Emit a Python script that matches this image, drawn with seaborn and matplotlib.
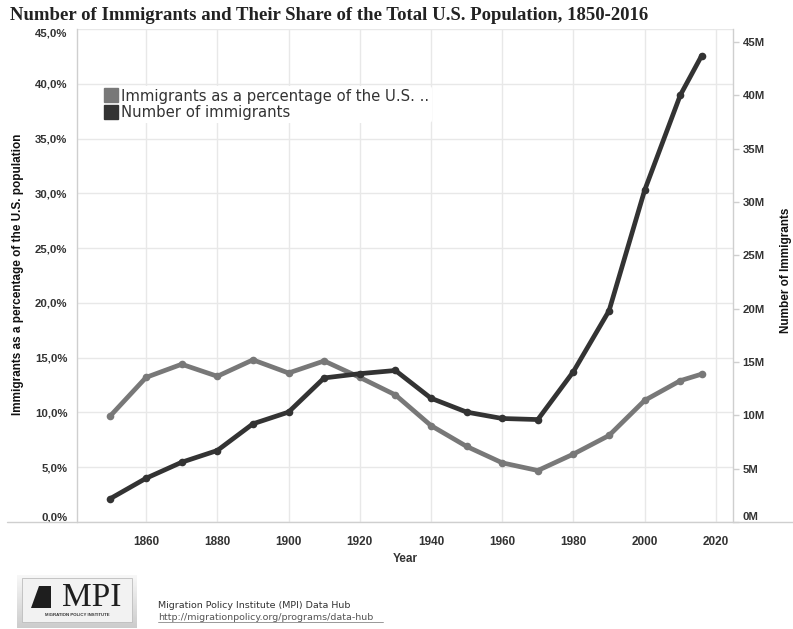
import matplotlib
matplotlib.use("Agg")
import matplotlib.pyplot as plt
import seaborn as sns
import pandas as pd
import numpy as np
from matplotlib.lines import Line2D
from matplotlib.patches import Rectangle, Polygon
from matplotlib.ticker import FuncFormatter, FixedLocator

# ---------------- data ----------------
years = [1850, 1860, 1870, 1880, 1890, 1900, 1910, 1920, 1930, 1940,
         1950, 1960, 1970, 1980, 1990, 2000, 2010, 2016]
pct_immigrants = [9.7, 13.2, 14.4, 13.3, 14.8, 13.6, 14.7, 13.2, 11.6, 8.8,
                  6.9, 5.4, 4.7, 6.2, 7.9, 11.1, 12.9, 13.5]
num_immigrants_m = [2.2, 4.1, 5.6, 6.7, 9.2, 10.3, 13.5, 13.9, 14.2, 11.6,
                    10.3, 9.7, 9.6, 14.1, 19.8, 31.1, 40.0, 43.7]
pct_ticks = [0, 5, 10, 15, 20, 25, 30, 35, 40, 45]
num_ticks = [0, 5, 10, 15, 20, 25, 30, 35, 40, 45]
year_ticks = [1860, 1880, 1900, 1920, 1940, 1960, 1980, 2000, 2020]
legend_labels = ["Immigrants as a percentage of the U.S. ..", "Number of immigrants"]
title = "Number of Immigrants and Their Share of the Total U.S. Population, 1850-2016"

GRAY = "#787878"
DARK = "#333333"
GRID = "#e8e8e8"
AXLINE = "#cfcfcf"
TXT = "#333333"

sns.set_style("white")
plt.rcParams['font.family'] = ['Liberation Sans', 'DejaVu Sans']

W, H = 793, 629
fig = plt.figure(figsize=(W / 100, H / 100), dpi=100)

L, R, T, B = 77, 733, 29, 522
ax = fig.add_axes([L / W, 1 - B / H, (R - L) / W, (B - T) / H])

df = pd.DataFrame({"Year": years, "pct": pct_immigrants, "num": num_immigrants_m})

sns.lineplot(data=df, x="Year", y="pct", ax=ax, color=GRAY, linewidth=3.4,
             marker='o', markersize=5.5, markeredgewidth=0, zorder=3)
ax.set_xlim(1840.6, 2024.8)
ax.set_ylim(0, 45)
ax.yaxis.set_major_locator(FixedLocator(pct_ticks))
ax.yaxis.set_major_formatter(FuncFormatter(lambda v, p: f"{v:.1f}%".replace('.', ',')))
ax.xaxis.set_major_locator(FixedLocator(year_ticks))
ax.grid(True, color=GRID, linewidth=1.0)
ax.set_axisbelow(True)
ax.tick_params(axis='y', length=0, pad=7, labelsize=8.2, labelcolor=TXT)
ax.tick_params(axis='x', length=4, color=AXLINE, width=1, pad=6, labelsize=8.5, labelcolor=TXT)
ax.set_xlabel("Year", fontsize=8.5, fontweight='bold', color=TXT, labelpad=4)
ax.set_ylabel("")
for s in ['top', 'bottom', 'right']:
    ax.spines[s].set_visible(False)
ax.spines['left'].set_color(AXLINE)
ax.spines['left'].set_linewidth(1.0)

ax2 = ax.twinx()
sns.lineplot(data=df, x="Year", y="num", ax=ax2, color=DARK, linewidth=3.4,
             marker='o', markersize=5.5, markeredgewidth=0, zorder=4)
ax2.set_ylim(0, 46.2)
ax2.yaxis.set_major_locator(FixedLocator(num_ticks))
ax2.yaxis.set_major_formatter(FuncFormatter(lambda v, p: f"{v:.0f}M"))
ax2.tick_params(axis='y', length=4, color=AXLINE, width=1, pad=3, labelsize=8.2, labelcolor=TXT)
ax2.set_ylabel("")
for s in ['top', 'bottom', 'left']:
    ax2.spines[s].set_visible(False)
ax2.spines['right'].set_color(AXLINE)
ax2.spines['right'].set_linewidth(1.0)

fig.canvas.draw()
for lab in ax.get_xticklabels() + ax.get_yticklabels() + ax2.get_yticklabels():
    lab.set_fontweight('bold')
yl = ax.get_yticklabels()
yl[0].set_va('bottom')
yl[-1].set_va('top')
yl2 = ax2.get_yticklabels()
yl2[0].set_va('bottom')

# full-width baseline
fig.add_artist(Line2D([7 / W, 1.0], [1 - B / H, 1 - B / H], transform=fig.transFigure,
                      color=AXLINE, linewidth=1.0))

# legend
handles = [Line2D([], [], marker='s', linestyle='none', markersize=10, color=GRAY),
           Line2D([], [], marker='s', linestyle='none', markersize=10, color=DARK)]
leg = ax2.legend(handles, legend_labels, loc='upper left',
                 bbox_to_anchor=(96 / W, 1 - 79 / H), bbox_transform=fig.transFigure,
                 frameon=True, facecolor='white', edgecolor='none', framealpha=1,
                 borderpad=0.15, labelspacing=0.12, handlelength=0.75, handletextpad=0.3,
                 prop={'family': 'DejaVu Sans', 'size': 10.7})
for t in leg.get_texts():
    t.set_color(TXT)

# title and axis titles
fig.text(10 / W, 1 - 15 / H, title, fontfamily='Liberation Serif', fontweight='bold',
         fontsize=13.5, color='#222222', ha='left', va='center')
fig.text(18 / W, 1 - 274 / H, "Immigrants as a percentage of the U.S. population",
         rotation=90, fontsize=8.5, fontweight='bold', color='#111111', ha='center', va='center')
fig.text(786 / W, 1 - 270 / H, "Number of Immigrants", rotation=90, fontsize=8.5,
         fontweight='bold', color='#111111', ha='center', va='center')

# footer logo
lx, ly, lw, lh = 17, 575, 120, 53
lax = fig.add_axes([lx / W, 1 - (ly + lh) / H, lw / W, lh / H])
grad = np.linspace(0.97, 0.80, 100).reshape(-1, 1)
lax.imshow(grad, cmap='gray', vmin=0, vmax=1, aspect='auto', extent=[0, 1, 0, 1])
lax.add_patch(Rectangle((0.04, 0.12), 0.92, 0.82, facecolor='#f2f2f2', edgecolor='#bdbdbd', lw=0.6))
lax.add_patch(Polygon([[0.12, 0.38], [0.28, 0.38], [0.28, 0.80], [0.18, 0.80]],
                      closed=True, facecolor='#1e1e1e', edgecolor='none'))
lax.text(0.62, 0.58, "MPI", fontfamily='Liberation Serif', fontsize=24, color='#1e1e1e',
         ha='center', va='center')
lax.text(0.5, 0.24, "MIGRATION POLICY INSTITUTE", fontsize=3.2, fontweight='bold',
         color='#333333', ha='center', va='center')
lax.set_xlim(0, 1)
lax.set_ylim(0, 1)
lax.axis('off')

fig.text(158 / W, 1 - 605 / H, "Migration Policy Institute (MPI) Data Hub",
         fontfamily='DejaVu Sans', fontsize=6.8, color='#333333', ha='left', va='center')
fig.text(158 / W, 1 - 617 / H, "http://migrationpolicy.org/programs/data-hub",
         fontfamily='DejaVu Sans', fontsize=6.8, color='#555555', ha='left', va='center')
fig.add_artist(Line2D([158 / W, 383 / W], [1 - 622 / H, 1 - 622 / H], transform=fig.transFigure,
                      color='#888888', linewidth=0.6))

fig.savefig("out.png", dpi=100)
